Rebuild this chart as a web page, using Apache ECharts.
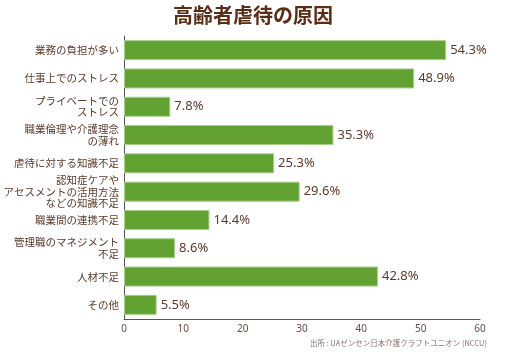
<!DOCTYPE html>
<html><head><meta charset="utf-8">
<script src="https://cdn.jsdelivr.net/npm/echarts@6/dist/echarts.min.js"></script>
<style>html,body{margin:0;padding:0;background:#fff}#c{width:506px;height:360px}</style>
</head><body><div id="c"></div>
<script>
const titleText = '高齢者虐待の原因';
const categories = [
  '業務の負担が多い',
  '仕事上でのストレス',
  'プライベートでの\nストレス',
  '職業倫理や介護理念\nの薄れ',
  '虐待に対する知識不足',
  '認知症ケアや\nアセスメントの活用方法\nなどの知識不足',
  '職業間の連携不足',
  '管理職のマネジメント\n不足',
  '人材不足',
  'その他'
];
const values = [54.3, 48.9, 7.8, 35.3, 25.3, 29.6, 14.4, 8.6, 42.8, 5.5];
const xTicks = { min: 0, max: 60, interval: 10 };
const sourceText = '出所 : UAゼンセン日本介護クラフトユニオン (NCCU)';

const chart = echarts.init(document.getElementById('c'));
chart.setOption({
  animation: false,
  title: {
    text: titleText, left: 'center', top: 0,
    textStyle: { fontFamily: 'Noto Sans CJK JP', fontSize: 20, fontWeight: 'bold', color: '#5a2d14' }
  },
  graphic: [{
    type: 'text', right: 19, top: 339,
    style: { text: sourceText, fontFamily: 'Noto Sans CJK JP', fontSize: 7.5, fill: '#8a7468' }
  }],
  grid: { left: 124, right: 26, top: 36, bottom: 41 },
  xAxis: {
    type: 'value', min: xTicks.min, max: xTicks.max, interval: xTicks.interval,
    axisLine: { show: true, lineStyle: { color: '#555', width: 1 } },
    axisTick: { show: false },
    splitLine: { show: false },
    axisLabel: { color: '#6b4a3a', fontSize: 10, fontFamily: 'Noto Sans', margin: 5 }
  },
  yAxis: {
    type: 'category', data: categories, inverse: true,
    axisLine: { show: true, lineStyle: { color: '#555', width: 1 } },
    axisTick: { show: false },
    axisLabel: { color: '#5a3a2a', fontSize: 10.5, fontFamily: 'Noto Sans CJK JP', lineHeight: 11.5, margin: 5, align: 'right' }
  },
  series: [{
    type: 'bar', data: values, barWidth: 20,
    itemStyle: { color: '#62a232', borderColor: '#a5d08a', borderWidth: 1 },
    label: {
      show: true, position: 'right', distance: 4,
      formatter: p => p.value.toFixed(1) + '%',
      color: '#5a3a2a', fontSize: 13, fontFamily: 'Noto Sans'
    }
  }]
});
</script></body></html>
